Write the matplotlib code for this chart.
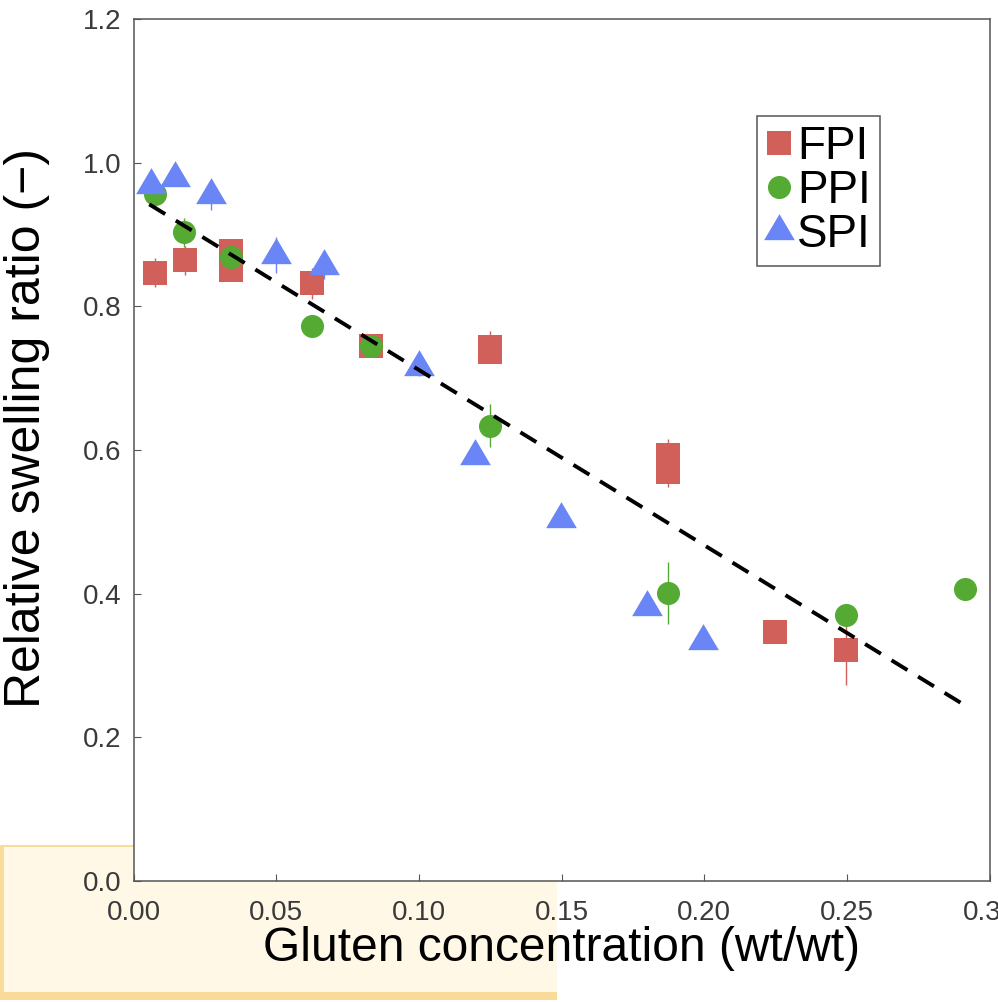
import matplotlib
matplotlib.use("Agg")
import matplotlib.pyplot as plt
from matplotlib.patches import Rectangle

plt.rcParams['font.family'] = ['Liberation Sans', 'DejaVu Sans']

# ---- data ----
fpi_x = [0.0074, 0.018, 0.034, 0.034, 0.0624, 0.0833, 0.1248, 0.1248, 0.1872, 0.1872, 0.2247, 0.2497]
fpi_y = [0.847, 0.864, 0.877, 0.851, 0.832, 0.745, 0.744, 0.736, 0.593, 0.570, 0.347, 0.322]
fpi_err = [0.020, 0.020, 0.008, 0.008, 0.022, 0.006, 0.022, 0.010, 0.022, 0.022, 0.006, 0.049]

ppi_x = [0.0075, 0.0178, 0.034, 0.0624, 0.0833, 0.1248, 0.1872, 0.2497, 0.2913]
ppi_y = [0.956, 0.903, 0.869, 0.773, 0.745, 0.634, 0.401, 0.370, 0.406]
ppi_err = [0.020, 0.020, 0.008, 0.004, 0.006, 0.030, 0.043, 0.005, 0.004]

spi_x = [0.006, 0.0144, 0.0273, 0.050, 0.0668, 0.100, 0.1197, 0.1498, 0.1798, 0.1996]
spi_y = [0.969, 0.978, 0.955, 0.872, 0.856, 0.715, 0.591, 0.504, 0.381, 0.334]
spi_err = [0.012, 0.006, 0.021, 0.025, 0.018, 0.012, 0.006, 0.006, 0.006, 0.006]

fit_x = [0.0055, 0.292]
fit_y = [0.942, 0.243]

x_ticks = [0.00, 0.05, 0.10, 0.15, 0.20, 0.25, 0.30]
x_labels = ['0.00', '0.05', '0.10', '0.15', '0.20', '0.25', '0.30']
y_ticks = [0.0, 0.2, 0.4, 0.6, 0.8, 1.0, 1.2]
y_labels = ['0.0', '0.2', '0.4', '0.6', '0.8', '1.0', '1.2']

c_fpi = '#D1605B'
c_ppi = '#55AA33'
c_spi = '#6A85F5'

W, H = 998, 1002
fig = plt.figure(figsize=(W / 100, H / 100), dpi=100)

# cream box in the lower-left corner behind the plot
def px_rect(x0, y0, x1, y1, color):
    fig.patches.append(Rectangle((x0 / W, (H - y1) / H), (x1 - x0) / W, (y1 - y0) / H,
                                 transform=fig.transFigure, facecolor=color,
                                 edgecolor='none', zorder=-1))

px_rect(0, 845, 557, 1000, '#FFF8E6')
px_rect(0, 845, 557, 847, '#F9DB9C')
px_rect(0, 845, 4, 1000, '#F9DB9C')
px_rect(0, 992, 557, 1000, '#F9DA98')

ax = fig.add_axes([133.6 / W, (H - 881) / H, (989.5 - 133.6) / W, (881 - 19) / H])
ax.set_facecolor('white')

# triangle with its centroid on the data point
tri = [(0, 1.333), (-1.18, -0.667), (1.18, -0.667)]
ms_sq = 16.8
ms_o = 16.6
ms_tri = 25.0

ax.errorbar(fpi_x, fpi_y, yerr=fpi_err, fmt='none', ecolor=c_fpi, elinewidth=1.0, capsize=0, zorder=2)
ax.plot(fpi_x, fpi_y, 's', color=c_fpi, ms=ms_sq, mew=0, label='FPI', zorder=3)
ax.errorbar(ppi_x, ppi_y, yerr=ppi_err, fmt='none', ecolor=c_ppi, elinewidth=1.0, capsize=0, zorder=4)
ax.plot(ppi_x, ppi_y, 'o', color=c_ppi, ms=ms_o, mew=0, label='PPI', zorder=5)
ax.errorbar(spi_x, spi_y, yerr=spi_err, fmt='none', ecolor=c_spi, elinewidth=1.0, capsize=0, zorder=6)
ax.plot(spi_x, spi_y, linestyle='none', marker=tri, color=c_spi, ms=ms_tri, mew=0, label='SPI', zorder=7)

ax.plot(fit_x, fit_y, color='black', lw=2.8, dashes=(4.8, 3.2), zorder=8)

ax.set_xlim(0, 0.3)
ax.set_ylim(0, 1.2)
ax.set_xticks(x_ticks)
ax.set_xticklabels(x_labels)
ax.set_yticks(y_ticks)
ax.set_yticklabels(y_labels)
ax.tick_params(direction='in', length=5, width=0.8, color='#555555',
               labelsize=20, labelcolor='#3a3a3a', top=False, right=False)
ax.tick_params(axis='x', pad=14)
ax.tick_params(axis='y', pad=9)
for s in ax.spines.values():
    s.set_color('#555555')
    s.set_linewidth(1.1)

ax.set_xlabel('Gluten concentration (wt/wt)', fontsize=34.5, color='black', labelpad=0)
ax.set_ylabel('Relative swelling ratio (\u2212)', fontsize=36, color='black')
ax.yaxis.set_label_coords(-0.098, 0.5255)

leg = ax.legend(loc='upper left', bbox_to_anchor=((757 - 133.6) / 855.9, (881 - 116) / 862),
                borderaxespad=0, fontsize=33, frameon=True, fancybox=False,
                handlelength=0.55, handletextpad=0.12, borderpad=0.2, labelspacing=0.0,
                framealpha=1)
leg.get_frame().set_edgecolor('#555555')
leg.get_frame().set_linewidth(1.1)

fig.savefig('out.png', dpi=100)
